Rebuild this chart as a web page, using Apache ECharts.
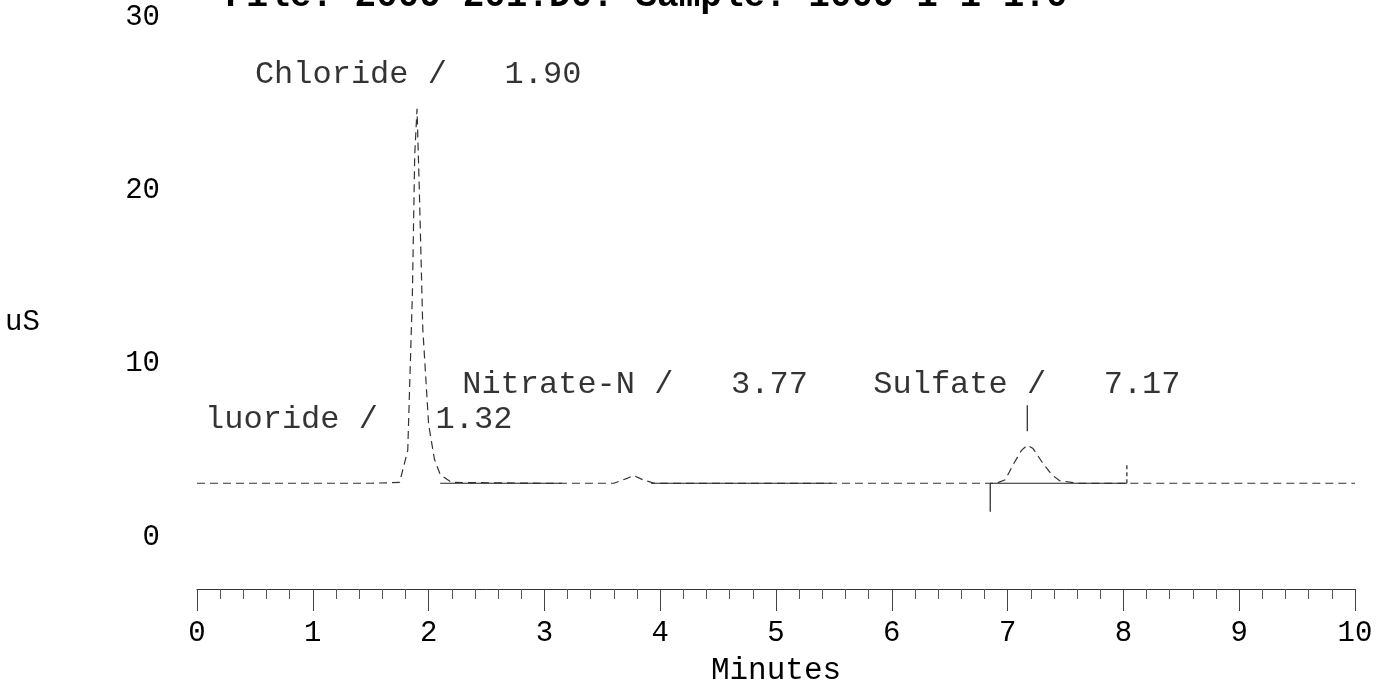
<!DOCTYPE html>
<html>
<head>
<meta charset="utf-8">
<script src="https://cdn.jsdelivr.net/npm/echarts@6/dist/echarts.min.js"></script>
<style>
html,body{margin:0;padding:0;background:#fff;}
#chart{width:1381px;height:687px;}
</style>
</head>
<body>
<div id="chart"></div>
<script>
// ---- data ----
const titleText = 'File: 2009 201.D0: Sample: 1009 1 1 1.0';
const yTickValues = [0, 10, 20, 30];
const times  = [0, 0.5, 1.0, 1.5, 1.75, 1.82, 1.86, 1.88, 1.90, 1.92, 1.95, 2.0, 2.05, 2.1, 2.2, 3.0, 3.6, 3.72, 3.77, 3.85, 3.95, 4.5, 5.5, 6.5, 6.9, 6.98, 7.05, 7.12, 7.17, 7.22, 7.3, 7.38, 7.45, 7.6, 8.0, 9.0, 10.0];
const signal = [3.1, 3.1, 3.1, 3.1, 3.15, 5.0, 14.0, 22.0, 24.7, 20.0, 12.0, 6.5, 4.5, 3.6, 3.15, 3.1, 3.1, 3.4, 3.55, 3.3, 3.1, 3.1, 3.1, 3.1, 3.1, 3.3, 4.2, 5.0, 5.3, 5.1, 4.3, 3.6, 3.25, 3.1, 3.1, 3.1, 3.1];
const peakNames = ['luoride', 'Chloride', 'Nitrate-N', 'Sulfate'];
const peakTimes = ['1.32', '1.90', '3.77', '7.17'];
const integrationStarts = [2.10, 3.92, 6.85];
const integrationEnds   = [3.15, 5.48, 8.03];
const baselineLevel = 3.1;
const markerTimes = [6.85, 8.03, 7.17];
const markerLow   = [1.45, 3.1, 6.1];
const markerHigh  = [3.1, 4.2, 7.6];

// ---- build chart ----
const FONT = '"Liberation Mono", "DejaVu Sans Mono", monospace';
const chart = echarts.init(document.getElementById('chart'), null, {renderer: 'canvas'});

const labelAnchors = [[0.07, 6.75], [0.50, 26.66], [2.29, 8.77], [5.84, 8.77]];

const series = [];
series.push({
  type: 'line', data: times.map((t, i) => [t, signal[i]]),
  showSymbol: false, smooth: false, silent: true,
  lineStyle: {color: '#333', width: 1.2, type: [8, 5]}
});
integrationStarts.forEach((s, i) => {
  series.push({
    type: 'line', data: [[s, baselineLevel], [integrationEnds[i], baselineLevel]],
    showSymbol: false, silent: true,
    lineStyle: {color: '#222', width: 1.2}
  });
});
markerTimes.forEach((t, i) => {
  series.push({
    type: 'line', data: [[t, markerLow[i]], [t, markerHigh[i]]],
    showSymbol: false, silent: true,
    lineStyle: {color: '#222', width: 1.2, type: i === 1 ? [4, 3] : 'solid'}
  });
});
series.push({
  type: 'scatter', symbolSize: 0, silent: true,
  data: peakNames.map((n, i) => ({value: labelAnchors[i], name: n + ' /   ' + peakTimes[i]})),
  label: {
    show: true, position: [0, 0], align: 'left', verticalAlign: 'middle',
    formatter: p => p.name, color: '#000', fontFamily: FONT, fontSize: 32
  }
});

chart.setOption({
  animation: false,
  backgroundColor: '#fff',
  grid: {left: 197, right: 26, top: 17, bottom: 98, containLabel: false, outerBoundsMode: 'none'},
  xAxis: {
    type: 'value', min: 0, max: 10, interval: 1,
    name: 'Minutes', nameLocation: 'middle', nameGap: 66,
    nameTextStyle: {fontFamily: FONT, fontSize: 31, color: '#000'},
    axisLine: {show: true, onZero: false, lineStyle: {color: '#333', width: 1}},
    axisTick: {show: true, length: 22, lineStyle: {color: '#444', width: 1}},
    minorTick: {show: true, splitNumber: 5, length: 10, lineStyle: {color: '#555', width: 1}},
    axisLabel: {margin: 30, fontFamily: FONT, fontSize: 29, color: '#000'},
    splitLine: {show: false}
  },
  yAxis: {
    type: 'value', min: -3, max: 30,
    axisLine: {show: false}, axisTick: {show: false},
    axisLabel: {customValues: yTickValues, margin: 37, fontFamily: FONT, fontSize: 29, color: '#000'},
    splitLine: {show: false}
  },
  graphic: [
    {type: 'text', left: 5, top: 308, style: {text: 'uS', font: '29px ' + FONT, fill: '#000'}},
    {type: 'text', x: 225, y: 15, style: {text: titleText, font: 'bold 36px ' + FONT, fill: '#000', verticalAlign: 'bottom'}}
  ],
  series: series
});
</script>
</body>
</html>
